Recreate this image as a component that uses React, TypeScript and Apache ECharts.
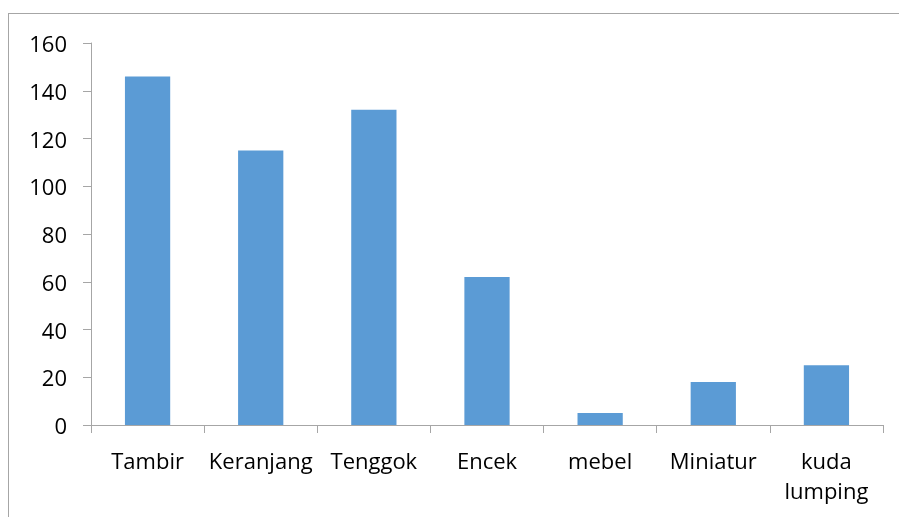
import React, { useEffect, useRef } from "react";
import * as echarts from "echarts";

const categories = ["Tambir", "Keranjang", "Tenggok", "Encek", "mebel", "Miniatur", "kuda\nlumping"];
const values = [146, 115, 132, 62, 5, 18, 25];
const yTicks = [0, 20, 40, 60, 80, 100, 120, 140, 160];

export default function App() {
  const ref = useRef<HTMLDivElement>(null);
  useEffect(() => {
    if (!ref.current) return;
    const chart = echarts.init(ref.current, undefined, { renderer: "svg" });
    const axisColor = "#a6a6a6";
    chart.setOption({
      animation: false,
      grid: { left: 82, top: 29, width: 792, height: 382, containLabel: false },
      xAxis: {
        type: "category",
        data: categories,
        boundaryGap: true,
        axisLine: { show: true, lineStyle: { color: axisColor, width: 1 } },
        axisTick: { show: true, length: 8, lineStyle: { color: axisColor } },
        axisLabel: {
          color: "#000",
          fontSize: 22,
          fontFamily: "Open Sans",
          margin: 20,
          lineHeight: 30,
          interval: 0,
        },
      },
      yAxis: {
        type: "value",
        min: 0,
        max: yTicks[yTicks.length - 1],
        interval: 20,
        axisLine: { show: true, lineStyle: { color: axisColor, width: 1 } },
        axisTick: { show: true, length: 8, lineStyle: { color: axisColor } },
        splitLine: { show: false },
        axisLabel: {
          color: "#000",
          fontSize: 22,
          fontFamily: "Open Sans",
          margin: 24,
        },
      },
      series: [
        {
          type: "bar",
          data: values,
          barWidth: "40%",
          itemStyle: { color: "#5b9bd5" },
        },
      ],
    });
    return () => chart.dispose();
  }, []);
  return (
    <div
      style={{
        position: "fixed",
        left: 8,
        top: 13,
        width: 920,
        height: 520,
        borderTop: "1px solid #a6a6a6",
        borderLeft: "1px solid #a6a6a6",
        boxSizing: "border-box",
        overflow: "hidden",
      }}
    >
      <div ref={ref} style={{ width: 890, height: 503 }} />
    </div>
  );
}
